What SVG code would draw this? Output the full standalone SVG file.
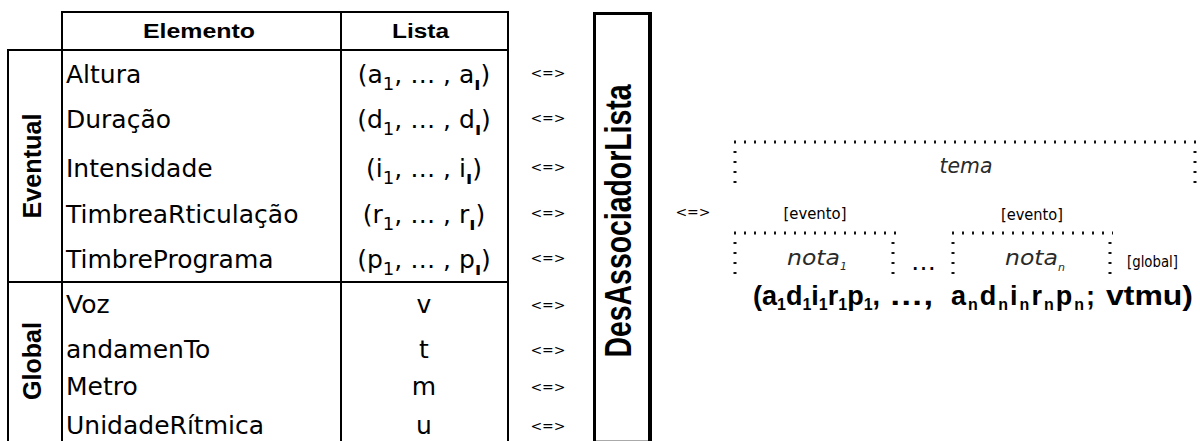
<svg xmlns="http://www.w3.org/2000/svg" width="1200" height="441" viewBox="0 0 1200 441">
  <style>
    .ln { stroke: #000; stroke-width: 2; fill: none; }
    .dot { stroke: #111; stroke-width: 3; stroke-dasharray: 2 8; fill: none; }
    .cell { font-family: "DejaVu Sans", sans-serif; font-size: 25px; fill: #000; }
    .mid { text-anchor: middle; }
    .hd { font-family: "Liberation Sans", Arial, sans-serif; font-weight: bold; fill: #000; }
    .op { font-family: "DejaVu Sans", sans-serif; font-size: 14px; fill: #000; text-anchor: middle; }
    .sub { font-size: 18px; }
    .mk { font-size: 18px; font-weight: bold; }
    .it { font-family: "DejaVu Sans", sans-serif; font-style: italic; font-size: 21px; fill: #2a2a2a; }
    .tag { font-family: "DejaVu Sans", sans-serif; font-size: 15px; fill: #000; }
    .form { font-family: "Liberation Sans", Arial, sans-serif; font-weight: bold; font-size: 27px; fill: #000; }
    .fsub { font-size: 16px; }
  </style>

  <!-- table grid -->
  <g id="table-grid">
    <line class="ln" x1="62" y1="12" x2="509" y2="12"/>
    <line class="ln" x1="7" y1="50" x2="509" y2="50"/>
    <line class="ln" x1="7" y1="282" x2="509" y2="282"/>
    <line class="ln" x1="8" y1="49" x2="8" y2="441"/>
    <line class="ln" x1="62" y1="11" x2="62" y2="441"/>
    <line class="ln" x1="341" y1="11" x2="341" y2="441"/>
    <line class="ln" x1="508" y1="11" x2="508" y2="441"/>
  </g>

  <!-- header row -->
  <g id="header">
    <text class="hd" x="143" y="38" font-size="20" textLength="112" lengthAdjust="spacingAndGlyphs">Elemento</text>
    <text class="hd" x="392" y="38" font-size="20" textLength="57" lengthAdjust="spacingAndGlyphs">Lista</text>
  </g>

  <!-- group labels -->
  <g id="group-eventual">
    <text class="hd mid" font-size="25" textLength="105" lengthAdjust="spacingAndGlyphs" transform="translate(41,166) rotate(-90)">Eventual</text>
  </g>
  <g id="group-global">
    <text class="hd mid" font-size="25" textLength="78" lengthAdjust="spacingAndGlyphs" transform="translate(41,361) rotate(-90)">Global</text>
  </g>

  <!-- element names -->
  <g id="elements">
    <text class="cell" x="66" y="83">Altura</text>
    <text class="cell" x="66" y="128">Duração</text>
    <text class="cell" x="66" y="177">Intensidade</text>
    <text class="cell" x="66" y="223">TimbreaRticulação</text>
    <text class="cell" x="66" y="268">TimbrePrograma</text>
    <text class="cell" x="66" y="313">Voz</text>
    <text class="cell" x="66" y="358">andamenTo</text>
    <text class="cell" x="66" y="395">Metro</text>
    <text class="cell" x="66" y="434">UnidadeRítmica</text>
  </g>

  <!-- list values -->
  <g id="lists">
    <text class="cell mid" x="424" y="83">(a<tspan class="sub" dy="7">1</tspan><tspan dy="-7">, … , a</tspan><tspan class="mk" dy="7">ı</tspan><tspan dy="-7">)</tspan></text>
    <text class="cell mid" x="424" y="128">(d<tspan class="sub" dy="7">1</tspan><tspan dy="-7">, … , d</tspan><tspan class="mk" dy="7">ı</tspan><tspan dy="-7">)</tspan></text>
    <text class="cell mid" x="424" y="177">(i<tspan class="sub" dy="7">1</tspan><tspan dy="-7">, … , i</tspan><tspan class="mk" dy="7">ı</tspan><tspan dy="-7">)</tspan></text>
    <text class="cell mid" x="424" y="223">(r<tspan class="sub" dy="7">1</tspan><tspan dy="-7">, … , r</tspan><tspan class="mk" dy="7">ı</tspan><tspan dy="-7">)</tspan></text>
    <text class="cell mid" x="424" y="268">(p<tspan class="sub" dy="7">1</tspan><tspan dy="-7">, … , p</tspan><tspan class="mk" dy="7">ı</tspan><tspan dy="-7">)</tspan></text>
    <text class="cell mid" x="424" y="313">v</text>
    <text class="cell mid" x="424" y="358">t</text>
    <text class="cell mid" x="424" y="395">m</text>
    <text class="cell mid" x="424" y="434">u</text>
  </g>

  <!-- equivalence markers -->
  <g id="connectors">
    <text class="op" x="548" y="78">&lt;=&gt;</text>
    <text class="op" x="548" y="123">&lt;=&gt;</text>
    <text class="op" x="548" y="172">&lt;=&gt;</text>
    <text class="op" x="548" y="218">&lt;=&gt;</text>
    <text class="op" x="548" y="263">&lt;=&gt;</text>
    <text class="op" x="548" y="310">&lt;=&gt;</text>
    <text class="op" x="548" y="355">&lt;=&gt;</text>
    <text class="op" x="548" y="392">&lt;=&gt;</text>
    <text class="op" x="548" y="431">&lt;=&gt;</text>
    <text class="op" x="693" y="217">&lt;=&gt;</text>
  </g>

  <!-- converter block -->
  <g id="desassociador">
    <line x1="594.5" y1="12" x2="594.5" y2="441" stroke="#000" stroke-width="3"/>
    <line x1="650" y1="12" x2="650" y2="441" stroke="#000" stroke-width="4"/>
    <line x1="593" y1="13.5" x2="652" y2="13.5" stroke="#000" stroke-width="3"/>
    <line x1="596" y1="440.5" x2="648" y2="440.5" stroke="#aaa" stroke-width="1"/>
    <text class="hd mid" font-size="37" textLength="273" lengthAdjust="spacingAndGlyphs" transform="translate(631,221) rotate(-90)">DesAssociadorLista</text>
  </g>

  <!-- theme frame -->
  <g id="tema">
    <line class="dot" x1="734" y1="142" x2="1198" y2="142"/>
    <line class="dot" x1="735" y1="151" x2="735" y2="184"/>
    <line class="dot" x1="1195" y1="151" x2="1195" y2="184"/>
    <text class="it mid" x="966" y="173" textLength="53" lengthAdjust="spacingAndGlyphs">tema</text>
  </g>

  <!-- first note -->
  <g id="nota-1">
    <text class="tag mid" x="815" y="219" textLength="63" lengthAdjust="spacingAndGlyphs">[evento]</text>
    <line class="dot" x1="734" y1="233" x2="896" y2="233"/>
    <line class="dot" x1="735" y1="242" x2="735" y2="275"/>
    <line class="dot" x1="893" y1="242" x2="893" y2="275"/>
    <text class="it" x="787" y="265"><tspan textLength="53" lengthAdjust="spacingAndGlyphs">nota</tspan><tspan font-size="11" dy="5">1</tspan></text>
  </g>

  <text class="cell" x="911" y="270" font-size="21">…</text>

  <!-- last note -->
  <g id="nota-n">
    <text class="tag mid" x="1032" y="220" textLength="62" lengthAdjust="spacingAndGlyphs">[evento]</text>
    <line class="dot" x1="952" y1="233" x2="1113" y2="233"/>
    <line class="dot" x1="953" y1="242" x2="953" y2="275"/>
    <line class="dot" x1="1110" y1="242" x2="1110" y2="275"/>
    <text class="it" x="1005" y="265"><tspan textLength="53" lengthAdjust="spacingAndGlyphs">nota</tspan><tspan font-size="11" dy="6">n</tspan></text>
  </g>

  <g id="global-tag">
    <text class="tag" x="1127" y="267" textLength="51" lengthAdjust="spacingAndGlyphs">[global]</text>
  </g>

  <!-- flattened sequence -->
  <g id="sequencia">
    <text class="form" y="305"><tspan x="753">(a</tspan><tspan class="fsub" dy="5">1</tspan><tspan dy="-5">d</tspan><tspan class="fsub" dy="5">1</tspan><tspan dy="-5">i</tspan><tspan class="fsub" dy="5">1</tspan><tspan dy="-5">r</tspan><tspan class="fsub" dy="5">1</tspan><tspan dy="-5">p</tspan><tspan class="fsub" dy="5">1</tspan><tspan dy="-5">,</tspan><tspan x="889" textLength="44" lengthAdjust="spacingAndGlyphs">…,</tspan><tspan x="951" letter-spacing="2">a</tspan><tspan class="fsub" dy="5" letter-spacing="2">n</tspan><tspan dy="-5" letter-spacing="2">d</tspan><tspan class="fsub" dy="5" letter-spacing="2">n</tspan><tspan dy="-5" letter-spacing="2">i</tspan><tspan class="fsub" dy="5" letter-spacing="2">n</tspan><tspan dy="-5" letter-spacing="2">r</tspan><tspan class="fsub" dy="5" letter-spacing="2">n</tspan><tspan dy="-5" letter-spacing="2">p</tspan><tspan class="fsub" dy="5" letter-spacing="2">n</tspan><tspan dy="-5">;</tspan><tspan x="1106" textLength="87" lengthAdjust="spacingAndGlyphs">vtmu)</tspan></text>
  </g>
</svg>
